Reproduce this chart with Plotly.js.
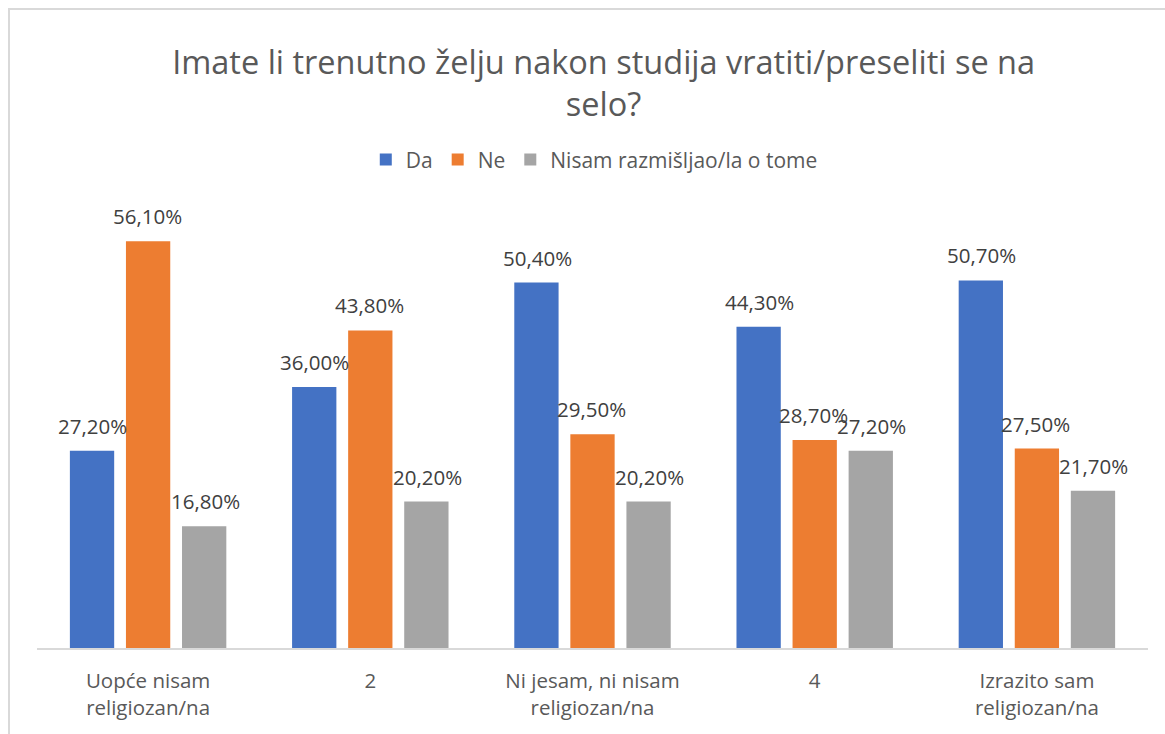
<!DOCTYPE html>
<html>
<head>
<meta charset="utf-8">
<script src="https://cdn.plot.ly/plotly-3.0.1.min.js"></script>
<style>
  html, body { margin: 0; padding: 0; background: #fff; }
  #wrap { position: relative; width: 1165px; height: 734px; }
  #frame { position: absolute; left: 8px; top: 8px; right: -2px; bottom: -2px; border-left: 2px solid #d9d9d9; border-top: 2px solid #d9d9d9; pointer-events: none; }
  #chart { position: absolute; left: 0; top: 0; width: 1165px; height: 734px; }
</style>
</head>
<body>
<div id="wrap">
  <div id="chart"></div>
  <div id="frame"></div>
</div>
<script>
const categories = ["Uopće nisam<br>religiozan/na", "2", "Ni jesam, ni nisam<br>religiozan/na", "4", "Izrazito sam<br>religiozan/na"];
const seriesNames = ["Da", "Ne", "Nisam razmišljao/la o tome"];
const da = [0.272, 0.360, 0.504, 0.443, 0.507];
const ne = [0.561, 0.438, 0.295, 0.287, 0.275];
const nisam = [0.168, 0.202, 0.202, 0.272, 0.217];
const colors = ["#4472C4", "#ED7D31", "#A5A5A5"];
const titleText = "Imate li trenutno želju nakon studija vratiti/preseliti se na<br>selo?";

const FONT = "Open Sans, Noto Sans, sans-serif";
const seriesValues = [da, ne, nisam];
const fmt = v => (v * 100).toFixed(2).replace(".", ",") + "%";

const traces = seriesValues.map((vals, i) => ({
  type: "bar",
  name: seriesNames[i],
  x: categories,
  y: vals,
  marker: { color: colors[i] },
  hoverinfo: "none"
}));

const shifts = [-55.5, -1, 57];
const annotations = [];
seriesValues.forEach((vals, i) => {
  vals.forEach((v, j) => {
    annotations.push({
      x: j, y: v, xref: "x", yref: "y",
      text: fmt(v), showarrow: false,
      xshift: shifts[i], yshift: 10, yanchor: "bottom",
      borderpad: 0,
      font: { family: FONT, size: 20.5, color: "#404040" }
    });
  });
});

const layout = {
  width: 1165, height: 734,
  margin: { l: 37, r: 17, t: 213, b: 86 },
  paper_bgcolor: "rgba(0,0,0,0)",
  plot_bgcolor: "rgba(0,0,0,0)",
  barmode: "group",
  bargap: 0.243,
  bargroupgap: 0.21,
  title: {
    text: titleText,
    font: { family: FONT, size: 32.5, color: "#595959" },
    x: 0.510, xanchor: "center", xref: "paper",
    y: 0.899, yanchor: "middle", yref: "container"
  },
  showlegend: true,
  legend: {
    orientation: "h",
    x: 0.5016, xanchor: "center",
    y: 1.122, yanchor: "middle",
    font: { family: FONT, size: 21, color: "#595959" },
    itemwidth: 30,
    traceorder: "normal"
  },
  xaxis: {
    type: "category",
    showline: true, linecolor: "#D9D9D9", linewidth: 1.5,
    ticks: "", showgrid: false, zeroline: false,
    tickfont: { family: FONT, size: 20.5, color: "#595959" },
    ticklabelstandoff: 14
  },
  yaxis: {
    range: [0, 0.6],
    showticklabels: false, showgrid: false, zeroline: false, showline: false, ticks: ""
  },
  annotations: annotations
};

Plotly.newPlot("chart", traces, layout, { displayModeBar: false, staticPlot: true });
</script>
</body>
</html>
